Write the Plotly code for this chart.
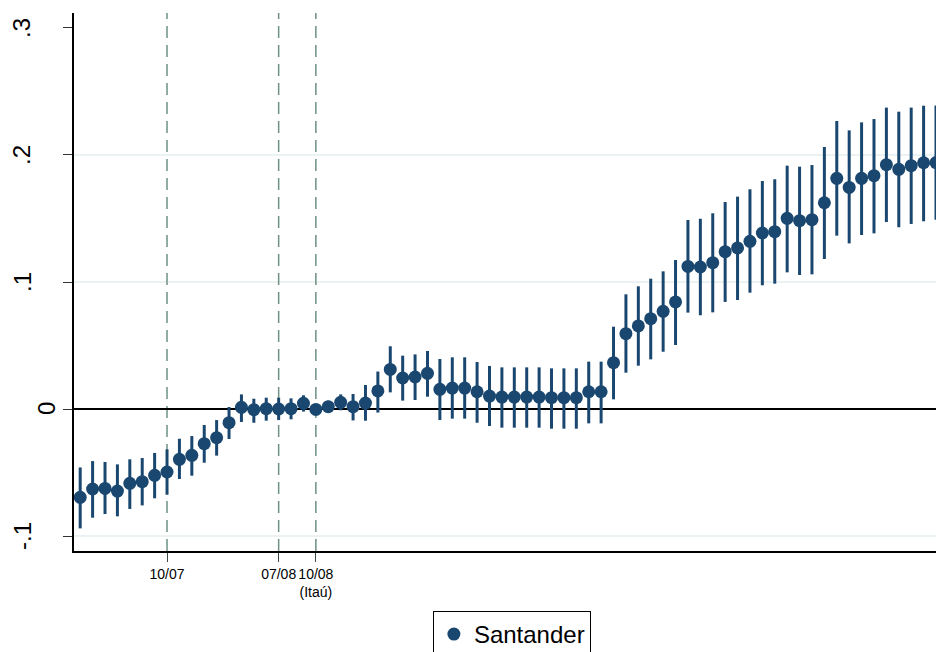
import plotly.graph_objects as go

# ---- data ----
periods = list(range(70))
coef = [-0.0695, -0.063, -0.0625, -0.0646, -0.0585, -0.0572, -0.0522, -0.0496, -0.0396, -0.0365,
        -0.0273, -0.0226, -0.0108, 0.0013, -0.0005, 0.0003, 0.0, 0.0003, 0.0045, -0.0003,
        0.0018, 0.0053, 0.0018, 0.0047, 0.0142, 0.0312, 0.0244, 0.0252, 0.0281, 0.0155,
        0.0165, 0.0165, 0.0136, 0.0102, 0.0094, 0.0094, 0.0094, 0.0094, 0.0089, 0.0089,
        0.0089, 0.0136, 0.0136, 0.0365, 0.0593, 0.0654, 0.0711, 0.0769, 0.0843, 0.1123,
        0.1118, 0.1152, 0.1239, 0.1268, 0.132, 0.1386, 0.1396, 0.1501, 0.1483, 0.1491,
        0.1624, 0.1816, 0.1745, 0.1816, 0.1837, 0.1924, 0.1887, 0.1916, 0.1939, 0.194]
ci_upper = [-0.046, -0.041, -0.0417, -0.0436, -0.0396, -0.0386, -0.0346, -0.0318, -0.0234, -0.0213,
            -0.0126, -0.0087, 0.0016, 0.0115, 0.0081, 0.0089, 0.0089, 0.0084, 0.0108, 0.004,
            0.0065, 0.0115, 0.0118, 0.0189, 0.0295, 0.0494, 0.042, 0.043, 0.0457, 0.0394,
            0.0407, 0.0407, 0.037, 0.0339, 0.0328, 0.0328, 0.0328, 0.0328, 0.032, 0.032,
            0.032, 0.0373, 0.0373, 0.0648, 0.0903, 0.0966, 0.1026, 0.1084, 0.1173, 0.1488,
            0.1498, 0.1541, 0.163, 0.1672, 0.173, 0.1795, 0.1809, 0.1916, 0.1908, 0.1921,
            0.2063, 0.2268, 0.2194, 0.2257, 0.2283, 0.2373, 0.2341, 0.2373, 0.2388, 0.239]
ci_lower = [-0.094, -0.0856, -0.0827, -0.0845, -0.0787, -0.0759, -0.0703, -0.0675, -0.0551, -0.0525,
            -0.0423, -0.0367, -0.0236, -0.0102, -0.0108, -0.0092, -0.0087, -0.0081, -0.002, -0.0045,
            -0.003, -0.001, -0.009, -0.0092, -0.0028, 0.0131, 0.0066, 0.0071, 0.0097, -0.0087,
            -0.0076, -0.0076, -0.0108, -0.0134, -0.0147, -0.0147, -0.0147, -0.0147, -0.0155, -0.0155,
            -0.0155, -0.0113, -0.0113, 0.0076, 0.0286, 0.0341, 0.0391, 0.0451, 0.0504, 0.0759,
            0.0738, 0.0761, 0.0843, 0.0858, 0.0916, 0.0974, 0.0987, 0.1076, 0.1055, 0.106,
            0.1181, 0.1365, 0.1304, 0.137, 0.1383, 0.1472, 0.1431, 0.1457, 0.1478, 0.149]

event_positions = [7, 16, 19]
event_labels = ["10/07", "07/08", "10/08<br>(Itaú)"]

y_tickvals = [-0.1, 0, 0.1, 0.2, 0.3]
y_ticktext = ["-.1", "0", ".1", ".2", ".3"]
grid_values = [-0.1, 0.1, 0.2]

series_name = "Santander"

# ---- styling ----
NAVY = "#1a476f"
FONT = "Liberation Sans, Arial, sans-serif"
# horizontal pixel offset of each rotated y label from the y axis line (style only)
YLABEL_SHIFT = {"-.1": -52, "0": -28, ".1": -52, ".2": -52, ".3": -52}

err_plus = [u - c for u, c in zip(ci_upper, coef)]
err_minus = [c - l for c, l in zip(coef, ci_lower)]

fig = go.Figure()
fig.add_trace(go.Scatter(
    x=periods, y=coef, mode="markers", name=series_name,
    marker=dict(color=NAVY, size=13, line=dict(width=0)),
    error_y=dict(type="data", symmetric=False, array=err_plus, arrayminus=err_minus,
                 color=NAVY, thickness=3, width=0),
    showlegend=True,
))

shapes = []
for g in grid_values:
    shapes.append(dict(type="line", xref="paper", x0=0, x1=1, yref="y", y0=g, y1=g,
                       line=dict(color="#eaf2f3", width=2), layer="below"))
for p in event_positions:
    shapes.append(dict(type="line", xref="x", x0=p, x1=p, yref="paper", y0=0, y1=1,
                       line=dict(color="#6e9185", width=1.5, dash="12px,7px"), layer="below"))

annotations = []
for v, t in zip(y_tickvals, y_ticktext):
    annotations.append(dict(xref="paper", x=0, yref="y", y=v, text=t, showarrow=False,
                            textangle=-90, xanchor="center", yanchor="middle",
                            xshift=YLABEL_SHIFT[t],
                            font=dict(size=24, family=FONT, color="black")))

fig.update_layout(
    width=936, height=652,
    margin=dict(l=74, r=0, t=13, b=101, autoexpand=False),
    paper_bgcolor="white", plot_bgcolor="white",
    font=dict(family=FONT, color="black"),
    shapes=shapes,
    annotations=annotations,
    showlegend=True,
    legend=dict(x=0.508, y=-0.1115, xanchor="center", yanchor="top",
                bordercolor="black", borderwidth=1, bgcolor="white",
                itemwidth=30,
                font=dict(size=24, family=FONT, color="black")),
    xaxis=dict(range=[-0.5, 69.0], showgrid=False, zeroline=False,
               showline=True, linecolor="black", linewidth=1.5,
               tickmode="array", tickvals=event_positions, ticktext=event_labels,
               ticks="outside", ticklen=9, tickcolor="#3a4a44", tickwidth=1,
               tickangle=0,
               tickfont=dict(size=14, family=FONT, color="black")),
    yaxis=dict(range=[-0.1118, 0.3118], showgrid=False,
               zeroline=True, zerolinecolor="black", zerolinewidth=1.5,
               showline=True, linecolor="black", linewidth=1.5,
               tickmode="array", tickvals=y_tickvals, ticktext=[""] * len(y_tickvals),
               ticks="outside", ticklen=9, tickcolor="#333333", tickwidth=1),
)

fig.write_html("out.html")
